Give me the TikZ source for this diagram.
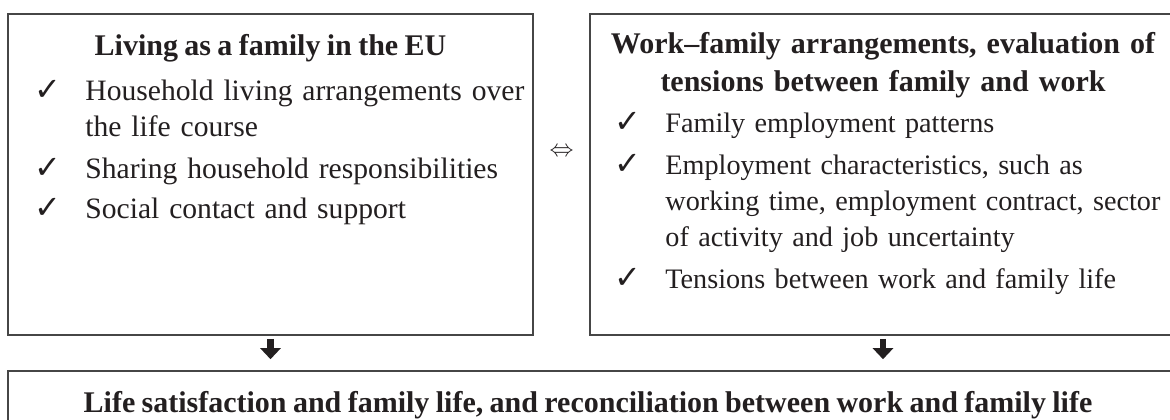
\documentclass[tikz,border=0pt]{standalone}
\usepackage{fontspec}
\setmainfont{Liberation Serif}[WordSpace=0.85]
\newfontfamily\tickfont{DejaVu Sans}
\usepackage{tikz}
\usetikzlibrary{arrows.meta,positioning}
\usepackage{xcolor}

\definecolor{ink}{RGB}{35,31,32}
\definecolor{rule}{RGB}{70,70,70}
\newcommand{\tickmark}{\llap{{\tickfont\fontsize{16pt}{16pt}\selectfont ✓}\hspace{12pt}}}

\begin{document}
\begin{tikzpicture}[x=0.5pt,y=-0.5pt,font=\fontsize{14.8pt}{18pt}\selectfont,text=ink,
  box/.style={draw=rule,line width=0.8pt,inner sep=0pt,minimum height=160.5pt},
  head/.style={font=\fontsize{15pt}{19pt}\selectfont\bfseries,inner sep=0pt,anchor=base,align=center},
  item/.style={inner sep=0pt,anchor=base west,text width=300pt,align=left},
  narrow/.style={font=\fontsize{14.1pt}{18pt}\selectfont},
  down/.style={draw=ink,line width=3.2pt,-{Triangle[length=5.5pt,width=10pt]},shorten <=1.5pt,shorten >=5.5pt}]
\path[use as bounding box,clip] (0,0) rectangle (1170,419);
% boxes
\node[box,minimum width=262.5pt] (family) at (270.5,174.5) {};
\node[box,minimum width=293pt] (work) at (883,174.5) {};
\node[box,minimum width=584pt,minimum height=50pt] (outcome) at (592,421) {};
% left box
\node[head] (familyhead) at (270.5,55) {Living as a family in the EU};
\node[item] (household) at (85,100) {\tickmark Household living arrangements over\\the life course};
\node[item] (sharing) at (85,178) {\tickmark Sharing household responsibilities};
\node[item] (contact) at (85,218) {\tickmark Social contact and support};
% right box
\node[head,text width=290pt] (workhead) at (883,53) {Work--family arrangements, evaluation of\\tensions between family and work};
\node[item,narrow] (patterns) at (665,132) {\tickmark Family employment patterns};
\node[item,narrow] (features) at (665,174) {\tickmark Employment characteristics, such as\\working time, employment contract, sector\\of activity and job uncertainty};
\node[item,narrow] (tensions) at (665,288) {\tickmark Tensions between work and family life};
% bottom box
\node[head] (outcomehead) at (588,412) {Life satisfaction and family life, and reconciliation between work and family life};
% links
\node[inner sep=0pt,font=\fontsize{13pt}{14pt}\selectfont] (link) at (561.5,152) {$\Leftrightarrow$};
\draw[down] (family.south) -- (family.south |- outcome.north);
\draw[down] (work.south) -- (work.south |- outcome.north);
\end{tikzpicture}
\end{document}
